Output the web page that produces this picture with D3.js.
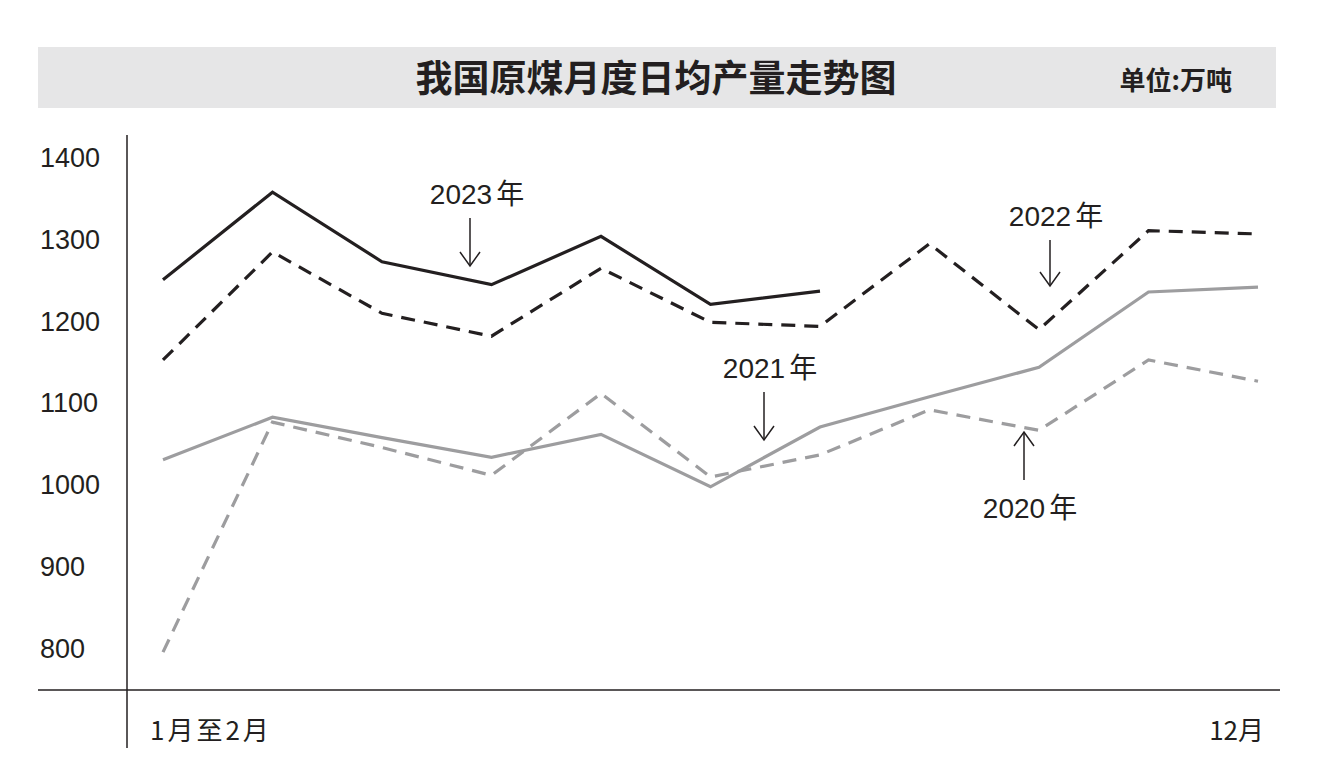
<!DOCTYPE html>
<html>
<head>
<meta charset="utf-8" />
<script src="https://d3js.org/d3.v7.min.js"></script>
<style>
  body { margin:0; background:#fff; }
  text { font-family: "Liberation Sans", Arial, "Noto Sans CJK SC", sans-serif; }
</style>
</head>
<body>
<svg id="viz"></svg>
<script>
var width = 1344, height = 774;

var months = ["1-2","3","4","5","6","7","8","9","10","11","12"];
var y2023 = [1250, 1357, 1272, 1244, 1303, 1220, 1236];
var y2022 = [1152, 1284, 1209, 1181, 1264, 1198, 1193, 1294, 1189, 1310, 1306];
var y2021 = [1030, 1082, 1057, 1033, 1061, 997, 1070, 1107, 1143, 1235, 1241];
var y2020 = [795, 1076, 1045, 1011, 1111, 1009, 1036, 1091, 1066, 1152, 1126];
var yTicks = [800, 900, 1000, 1100, 1200, 1300, 1400];

var svg = d3.select("#viz").attr("width", width).attr("height", height);

// title band
svg.append("rect").attr("x", 38).attr("y", 47).attr("width", 1238).attr("height", 61).attr("fill", "#e6e6e7");
svg.append("text").attr("x", 656).attr("y", 92).attr("text-anchor", "middle")
  .attr("font-size", 37).attr("font-weight", "bold").attr("fill", "#231f20")
  .style("font-family", "Noto Sans CJK SC").text("我国原煤月度日均产量走势图");
svg.append("text").attr("x", 1232).attr("y", 90).attr("text-anchor", "end")
  .attr("font-size", 26).attr("font-weight", "bold").attr("fill", "#231f20")
  .style("font-family", "Noto Sans CJK SC").text("单位:万吨");

var x = d3.scalePoint().domain(months).range([163, 1258]);
var y = d3.scaleLinear().domain([800, 1400]).range([648, 157]);

// axes lines
svg.append("line").attr("x1", 127).attr("x2", 127).attr("y1", 135).attr("y2", 748).attr("stroke", "#231f20").attr("stroke-width", 1.5);
svg.append("line").attr("x1", 38).attr("x2", 1280).attr("y1", 690).attr("y2", 690).attr("stroke", "#231f20").attr("stroke-width", 1.5);

var yAxis = d3.axisLeft(y).tickValues(yTicks).tickSize(0).tickPadding(0).tickFormat(d3.format("d"));
var ga = svg.append("g").attr("transform", "translate(40,0)").call(yAxis);
ga.select(".domain").remove();
ga.selectAll("text").attr("font-size", 27).attr("fill", "#231f20").attr("text-anchor", "start").attr("dy", "0.35em");

svg.append("text").attr("x", 150).attr("y", 740).attr("font-size", 26).attr("fill", "#231f20")
  .style("font-family", "Noto Sans CJK SC").style("letter-spacing", "3px").text("1月至2月");
svg.append("text").attr("x", 1264).attr("y", 740).attr("text-anchor", "end").attr("font-size", 26).attr("fill", "#231f20")
  .style("font-family", "Noto Sans CJK SC").text("12月");

var line = d3.line().x(function(d, i){ return x(months[i]); }).y(function(d){ return y(d); });

var series = [
  {data: y2020, color: "#9d9d9f", dash: "14,9"},
  {data: y2021, color: "#9d9d9f", dash: null},
  {data: y2022, color: "#231f20", dash: "14,9"},
  {data: y2023, color: "#231f20", dash: null}
];
series.forEach(function(s){
  svg.append("path").attr("d", line(s.data)).attr("fill", "none")
    .attr("stroke", s.color).attr("stroke-width", 3.2)
    .attr("stroke-dasharray", s.dash);
});

// annotations
var notes = [
  {t: "2023年", tx: 477, ty: 204, ax: 470, a1: 218, a2: 266},
  {t: "2022年", tx: 1056, ty: 226, ax: 1050, a1: 240, a2: 286},
  {t: "2021年", tx: 770, ty: 378, ax: 764, a1: 392, a2: 440},
  {t: "2020年", tx: 1030, ty: 518, ax: 1024, a1: 480, a2: 432}
];
notes.forEach(function(n){
  var g = svg.append("text").attr("x", n.tx).attr("y", n.ty).attr("text-anchor", "middle")
    .attr("font-size", 28).attr("fill", "#231f20");
  g.append("tspan").text(n.t.slice(0, 4));
  g.append("tspan").style("font-family", "Noto Sans CJK SC").attr("dx", 4).text("年");
  svg.append("line").attr("x1", n.ax).attr("x2", n.ax).attr("y1", n.a1).attr("y2", n.a2)
    .attr("stroke", "#231f20").attr("stroke-width", 1.5);
  var d = n.a2 > n.a1 ? -1 : 1;
  svg.append("path").attr("d", "M" + (n.ax - 10) + "," + (n.a2 + d * 14) + "L" + n.ax + "," + n.a2 + "L" + (n.ax + 10) + "," + (n.a2 + d * 14))
    .attr("fill", "none").attr("stroke", "#231f20").attr("stroke-width", 1.5);
});
</script>
</body>
</html>
